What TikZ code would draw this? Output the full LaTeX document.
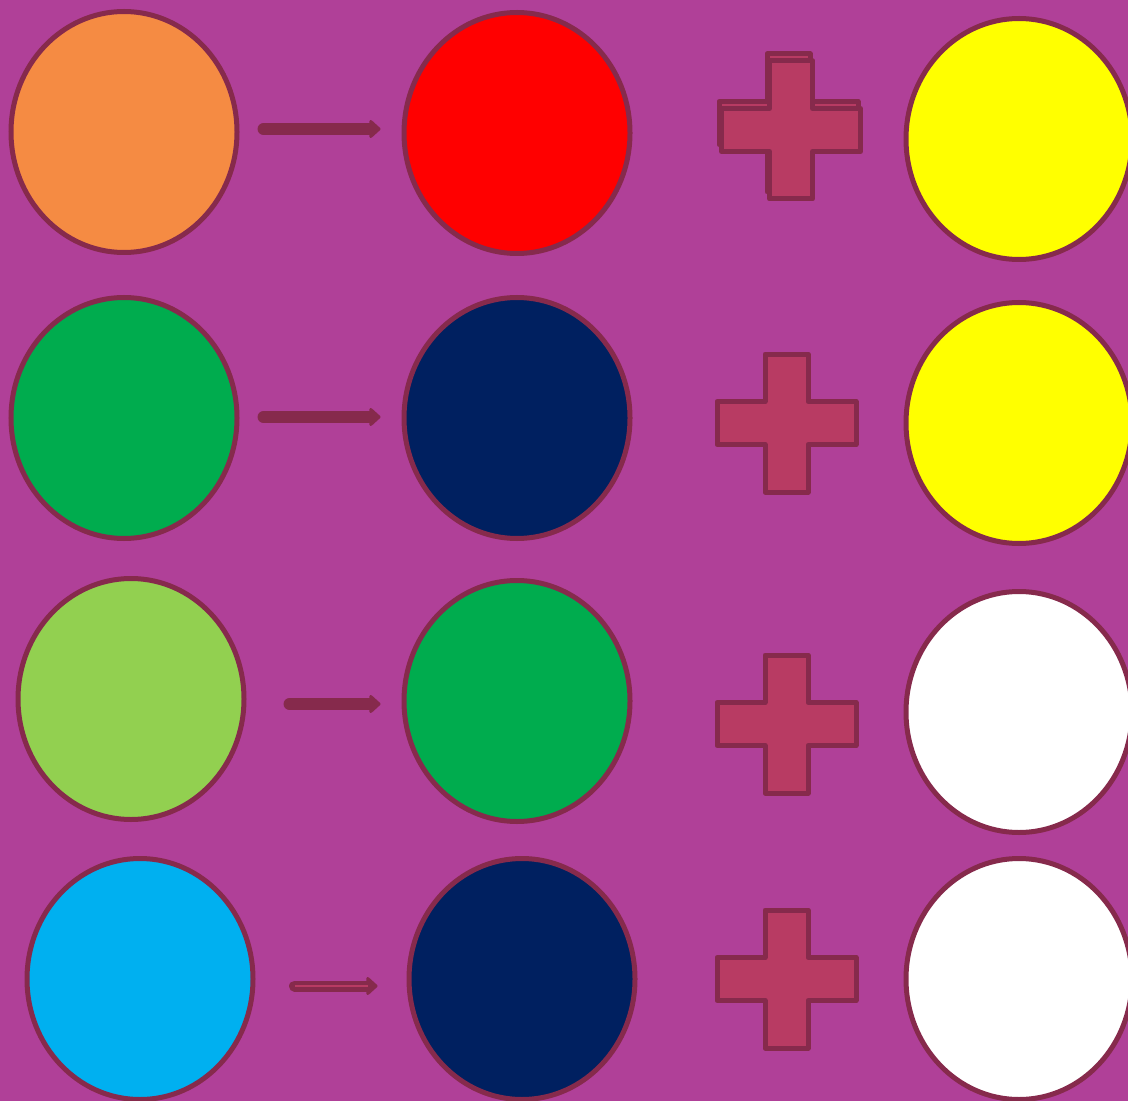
\documentclass[tikz,border=0pt]{standalone}
\usetikzlibrary{arrows.meta,shapes.geometric}
\definecolor{bgpurple}{RGB}{176,64,152}
\definecolor{rim}{RGB}{134,42,76}
\definecolor{plusfill}{RGB}{184,59,99}
\definecolor{orangeball}{RGB}{245,139,67}
\definecolor{greenball}{RGB}{0,172,78}
\definecolor{navyball}{RGB}{0,32,96}
\definecolor{limeball}{RGB}{146,208,80}
\definecolor{skyball}{RGB}{0,176,240}
\definecolor{yellowball}{RGB}{255,255,0}
\begin{document}
\begin{tikzpicture}[x=0.5pt, y=-0.5pt,
  ball/.style={ellipse, draw=rim, line width=2.5pt, minimum width=113pt, minimum height=120.5pt, inner sep=0pt},
  arr/.style={draw=rim, line width=6pt, line cap=round, -{Triangle[round, length=6pt, width=10.5pt]}},
  plusbox/.style={draw=rim, fill=plusfill, line width=2.5pt, line join=round},
  plusmark/.pic={
    \draw[plusbox] (-21.5,-69) -- (21.5,-69) -- (21.5,-21.5) -- (69.5,-21.5) -- (69.5,21.5) -- (21.5,21.5)
      -- (21.5,69) -- (-21.5,69) -- (-21.5,21.5) -- (-69.5,21.5) -- (-69.5,-21.5) -- (-21.5,-21.5) -- cycle;
  }]
  \clip (0,0) rectangle (1128,1101);
  \fill[bgpurple] (0,0) rectangle (1128,1101);
  % Row 1
  \node[ball, fill=orangeball] (a1) at (124,132) {};
  \node[ball, fill=red] (b1) at (517,133) {};
  \node[ball, fill=yellowball] (c1) at (1019,139) {};
  % Row 2
  \node[ball, fill=greenball] (a2) at (124,418) {};
  \node[ball, fill=navyball] (b2) at (517,418) {};
  \node[ball, fill=yellowball] (c2) at (1019,423) {};
  % Row 3
  \node[ball, fill=limeball] (a3) at (131,699) {};
  \node[ball, fill=greenball] (b3) at (517,701) {};
  \node[ball, fill=white] (c3) at (1019,712) {};
  % Row 4
  \node[ball, fill=skyball] (a4) at (140,979) {};
  \node[ball, fill=navyball] (b4) at (522,979) {};
  \node[ball, fill=white] (c4) at (1019,979) {};
  % Arrows
  \draw[arr] ([xshift=12pt,yshift=1.5pt]a1.east) -- ([xshift=-10.5pt,yshift=2pt]b1.west);
  \draw[arr] ([xshift=12pt,yshift=0.5pt]a2.east) -- ([xshift=-10.5pt,yshift=0.5pt]b2.west);
  \draw[arr] ([xshift=21.5pt,yshift=-2.5pt]a3.east) -- ([xshift=-10.5pt,yshift=-1.5pt]b3.west);
  \draw[arr, line width=5.5pt] ([xshift=19.5pt,yshift=-3.5pt]a4.east) -- ([xshift=-14.5pt,yshift=-3.5pt]b4.west);
  \draw[plusfill, line width=1.2pt] ([xshift=19.5pt,yshift=-3.5pt]a4.east) -- ([xshift=-19.5pt,yshift=-3.5pt]b4.west);
  % Plus signs
  \pic at (788.5,123) {plusmark};
  \pic at (791,130) {plusmark};
  \foreach \y in {423,724,979} {
    \pic at (786.5,\y) {plusmark};
  }
\end{tikzpicture}
\end{document}
